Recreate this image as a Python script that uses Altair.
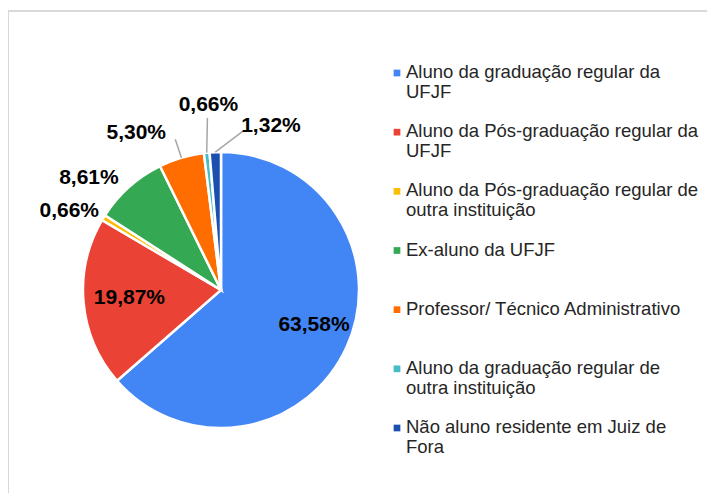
import altair as alt
import pandas as pd

# ---- data ----
categories = [
    "Aluno da graduação regular da UFJF",
    "Aluno da Pós-graduação regular da UFJF",
    "Aluno da Pós-graduação regular de outra instituição",
    "Ex-aluno da UFJF",
    "Professor/ Técnico Administrativo",
    "Aluno da graduação regular de outra instituição",
    "Não aluno residente em Juiz de Fora",
]
legend_text = [
    "Aluno da graduação regular da\nUFJF",
    "Aluno da Pós-graduação regular da\nUFJF",
    "Aluno da Pós-graduação regular de\noutra instituição",
    "Ex-aluno da UFJF",
    "Professor/ Técnico Administrativo",
    "Aluno da graduação regular de\noutra instituição",
    "Não aluno residente em Juiz de\nFora",
]
values = [63.58, 19.87, 0.66, 8.61, 5.30, 0.66, 1.32]
value_labels = ["63,58%", "19,87%", "0,66%", "8,61%", "5,30%", "0,66%", "1,32%"]

# ---- styling / layout ----
colors = ["#4285F4", "#EA4335", "#FBBC04", "#34A853", "#FF6D01", "#46BDC6", "#1A4FB0"]
W, H = 699, 485
CX, CY, R = 213, 282, 138
FONT = "Liberation Sans"
# label radius and nudges (dx, dy), leader end offset relative to label (or None)
label_layout = {
    0: (100, 2, -6, None),
    1: (97, 5, -1, None),
    2: (170, -7, 10, None),
    3: (170, -19, 15, None),
    4: (170, -36, 6, (39, 6)),
    5: (170, 5, -16, (-1, 13)),
    6: (170, 57, 6, (-28, 5)),
}

rows = []
for i, (c, lt, v, lab) in enumerate(zip(categories, legend_text, values, value_labels)):
    lr, ndx, ndy, lead = label_layout[i]
    rows.append(dict(idx=i, cat=c, legend=lt, value=v, label=lab,
                     lr=lr, ndx=ndx, ndy=ndy,
                     has_lead=lead is not None,
                     ldx=(lead[0] if lead else 0), ldy=(lead[1] if lead else 0)))
df = pd.DataFrame(rows)

base = alt.Chart(df)
color = alt.Color("cat:N", scale=alt.Scale(domain=categories, range=colors), legend=None)

pie = base.mark_arc(outerRadius=R, stroke="white", strokeWidth=2.5).encode(
    theta=alt.Theta("value:Q", stack=True),
    color=color,
    order=alt.Order("idx:Q"),
    x=alt.value(CX),
    y=alt.value(CY),
)

geo = base.transform_window(
    cum="sum(value)", sort=[alt.SortField("idx")], frame=[None, 0]
).transform_joinaggregate(
    total="sum(value)"
).transform_calculate(
    mid="2*PI*(datum.cum - datum.value/2)/datum.total"
).transform_calculate(
    lx=f"{CX} + datum.lr*sin(datum.mid) + datum.ndx",
    ly=f"{CY} - datum.lr*cos(datum.mid) + datum.ndy",
    sx=f"{CX} + {R}*sin(datum.mid)",
    sy=f"{CY} - {R}*cos(datum.mid)",
)

labels = geo.mark_text(
    font=FONT, fontSize=21, fontWeight="bold", color="#000000",
    align="center", baseline="middle",
).encode(
    x=alt.X("lx:Q", scale=None, axis=None),
    y=alt.Y("ly:Q", scale=None, axis=None),
    text="label:N",
)

leaders = geo.transform_filter("datum.has_lead").transform_calculate(
    ex="datum.lx + datum.ldx", ey="datum.ly + datum.ldy"
).mark_rule(color="#A6A6A6", strokeWidth=1.5).encode(
    x=alt.X("sx:Q", scale=None, axis=None),
    y=alt.Y("sy:Q", scale=None, axis=None),
    x2="ex:Q",
    y2="ey:Q",
)

ly_scale = alt.Scale(type="point", range=[65, 420], padding=0)
leg_sym = base.mark_square(size=45, opacity=1).encode(
    y=alt.Y("cat:N", sort=categories, scale=ly_scale, axis=None),
    x=alt.value(389),
    color=color,
)
leg_txt = base.mark_text(
    font=FONT, fontSize=18.5, color="#262626", align="left", baseline="top",
    dy=-10, lineHeight=20, lineBreak="\n",
).encode(
    y=alt.Y("cat:N", sort=categories, scale=ly_scale, axis=None),
    x=alt.value(398),
    text="legend:N",
)

one = alt.Data(values=[{"k": 1}])
border_top = alt.Chart(one).mark_rule(color="#D9D9D9", strokeWidth=2).encode(
    x=alt.value(0), x2=alt.value(W), y=alt.value(3)
)
border_left = alt.Chart(one).mark_rule(color="#D9D9D9", strokeWidth=2).encode(
    x=alt.value(0), y=alt.value(3), y2=alt.value(H)
)

chart = alt.layer(
    border_top, border_left, pie, leaders, labels, leg_sym, leg_txt
).resolve_scale(
    x="independent", y="independent"
).properties(
    width=W, height=H, padding=0,
    autosize=alt.AutoSizeParams(type="none"),
).configure_view(stroke=None)

chart.save("out.html", embed_options={"renderer": "svg", "actions": False})
